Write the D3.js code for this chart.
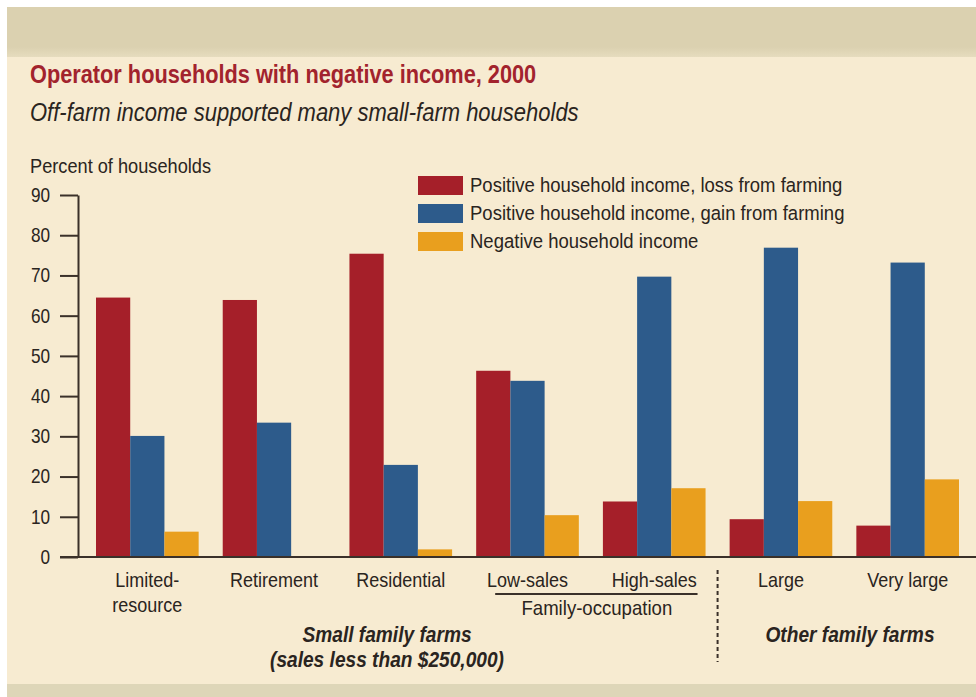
<!DOCTYPE html>
<html>
<head>
<meta charset="utf-8">
<script src="https://cdn.jsdelivr.net/npm/d3@7"></script>
<style>
  html, body { margin: 0; padding: 0; background: #ffffff; }
  svg { display: block; }
  text { font-family: "Liberation Sans", Arial, sans-serif; }
</style>
</head>
<body>
<svg id="chart" width="976" height="697"></svg>
<script>
// Farm typology groups and the share of operator households in each income class
const categories = ["Limited-resource", "Retirement", "Residential", "Low-sales", "High-sales", "Large", "Very large"];
const categoryLines = [["Limited-", "resource"], ["Retirement"], ["Residential"], ["Low-sales"], ["High-sales"], ["Large"], ["Very large"]];
const seriesNames = [
  "Positive household income, loss from farming",
  "Positive household income, gain from farming",
  "Negative household income"
];
const lossFromFarming = [64.5, 63.9, 75.4, 46.3, 13.8, 9.4, 7.8];
const gainFromFarming = [30.1, 33.4, 22.9, 43.8, 69.7, 76.9, 73.2];
const negativeIncome  = [6.3, 0, 1.9, 10.4, 17.1, 13.9, 19.3];
const yTicks = [0, 10, 20, 30, 40, 50, 60, 70, 80, 90];

const seriesValues = [lossFromFarming, gainFromFarming, negativeIncome];
const colors = ["#a51f29", "#2d5b8b", "#e99f1e"];
const ink = "#2a2420";
const axisColor = "#3a3029";

const W = 976, H = 697;
const svg = d3.select("#chart");

// Condensed text: a regular face squeezed horizontally around its anchor point
function label(parent, x, y, str, opts) {
  const o = Object.assign({ size: 20, sx: 0.88, anchor: "start", weight: "normal", style: "normal", fill: ink }, opts || {});
  return parent.append("text")
    .attr("transform", `translate(${x},${y}) scale(${o.sx},1)`)
    .attr("text-anchor", o.anchor)
    .attr("font-size", o.size)
    .attr("font-weight", o.weight)
    .attr("font-style", o.style)
    .attr("fill", o.fill)
    .text(str);
}

// Page background: cream panel with tan bands at top and bottom
svg.append("rect").attr("x", 0).attr("y", 0).attr("width", W).attr("height", H).attr("fill", "#ffffff");
svg.append("rect").attr("x", 7).attr("y", 7).attr("width", W - 7).attr("height", H - 7).attr("fill", "#f7ebd1");
const grad = svg.append("defs").append("linearGradient").attr("id", "topband").attr("x1", 0).attr("y1", 0).attr("x2", 0).attr("y2", 1);
grad.append("stop").attr("offset", "0%").attr("stop-color", "#dbd1b0");
grad.append("stop").attr("offset", "80%").attr("stop-color", "#dbd1b0");
grad.append("stop").attr("offset", "100%").attr("stop-color", "#e6dcbe");
svg.append("rect").attr("x", 7).attr("y", 7).attr("width", W - 7).attr("height", 50).attr("fill", "url(#topband)");
svg.append("rect").attr("x", 7).attr("y", 684).attr("width", W - 7).attr("height", 13).attr("fill", "#ded6b8");

// Titles
label(svg, 30, 83, "Operator households with negative income, 2000",
  { size: 25, sx: 0.87, weight: "bold", fill: "#a2232d" });
label(svg, 30, 121, "Off-farm income supported many small-farm households",
  { size: 25, sx: 0.88, style: "italic" });
label(svg, 30, 173, "Percent of households", { size: 20, sx: 0.91 });

// Scales
const y = d3.scaleLinear().domain([0, 90]).range([557, 195]);
const x0 = d3.scaleBand().domain(categories).range([96, 959]).paddingInner(0.19).paddingOuter(0);
const x1 = d3.scaleBand().domain(d3.range(seriesNames.length)).range([0, x0.bandwidth()]).padding(0);

// Bars
const groups = svg.append("g").selectAll("g").data(categories).join("g")
  .attr("transform", d => `translate(${x0(d)},0)`);
groups.selectAll("rect")
  .data((d, i) => seriesValues.map((vals, s) => ({ s, v: vals[i] })))
  .join("rect")
  .attr("x", d => x1(d.s))
  .attr("width", x1.bandwidth())
  .attr("y", d => y(d.v))
  .attr("height", d => y(0) - y(d.v))
  .attr("fill", d => colors[d.s]);

// Y axis
const tickSx = 0.86;
const yAxis = d3.axisLeft(y).tickValues(yTicks).tickSize(18).tickSizeOuter(0).tickPadding(10);
const gy = svg.append("g").attr("transform", "translate(78,0)").call(yAxis);
gy.select(".domain").attr("stroke", axisColor).attr("stroke-width", 2);
gy.selectAll(".tick line").attr("stroke", axisColor).attr("stroke-width", 2);
gy.selectAll(".tick text")
  .attr("fill", ink).attr("font-size", 20)
  .attr("font-family", "'Liberation Sans', Arial, sans-serif")
  .attr("transform", `scale(${tickSx},1)`)
  .attr("x", -28 / tickSx);

// Baseline
svg.append("line").attr("x1", 60).attr("x2", W).attr("y1", y(0)).attr("y2", y(0))
  .attr("stroke", axisColor).attr("stroke-width", 2);

// Category labels
categories.forEach((c, i) => {
  const cx = x0(c) + x0.bandwidth() / 2;
  categoryLines[i].forEach((line, j) => {
    label(svg, cx, 587 + j * 25, line, { size: 20, sx: 0.9, anchor: "middle" });
  });
});

// Family-occupation bracket
const lowX = x0("Low-sales"), highX = x0("High-sales") + x0.bandwidth();
svg.append("line").attr("x1", lowX + 19).attr("x2", highX - 8).attr("y1", 594).attr("y2", 594)
  .attr("stroke", axisColor).attr("stroke-width", 2);
label(svg, (lowX + highX) / 2 + 6, 615, "Family-occupation", { size: 20, sx: 0.93, anchor: "middle" });

// Divider between small and other family farms
const divX = (x0("High-sales") + x0.bandwidth() + x0("Large")) / 2;
svg.append("line").attr("x1", divX).attr("x2", divX).attr("y1", 570).attr("y2", 662)
  .attr("stroke", axisColor).attr("stroke-width", 2).attr("stroke-dasharray", "4,3");

// Group captions
const cap = { size: 22, sx: 0.87, anchor: "middle", weight: "bold", style: "italic" };
label(svg, 387, 642, "Small family farms", cap);
label(svg, 387, 667, "(sales less than $250,000)", cap);
label(svg, 850, 642, "Other family farms", cap);

// Legend
const legend = svg.append("g").attr("transform", "translate(418,176)");
seriesNames.forEach((name, i) => {
  const row = legend.append("g").attr("transform", `translate(0,${i * 28})`);
  row.append("rect").attr("width", 45).attr("height", 19).attr("fill", colors[i]);
  label(row, 52, 16, name, { size: 19.5, sx: 0.95 });
});
</script>
</body>
</html>
